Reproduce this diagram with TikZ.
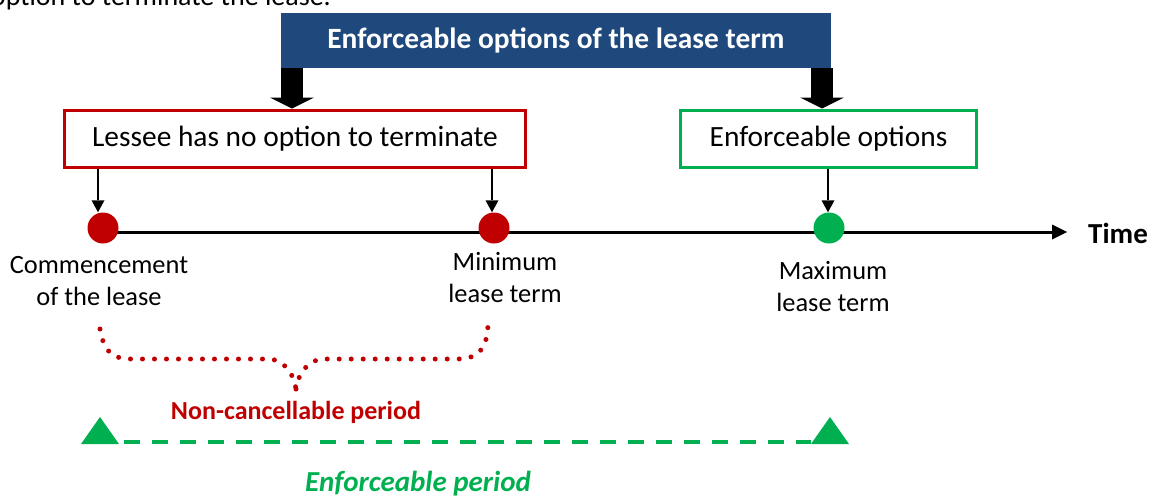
\documentclass[tikz,border=0pt]{standalone}
\usepackage{fontspec}
\setmainfont{Carlito}
\usetikzlibrary{arrows.meta,calc}
\definecolor{hdrblue}{HTML}{1F497D}
\definecolor{darkred}{HTML}{C00000}
\definecolor{brightgreen}{HTML}{00B050}
\begin{document}
\begin{tikzpicture}[x=1pt,y=-1pt,
  txt/.style={font=\fontsize{28}{33}\selectfont, inner sep=0pt},
  lbl/.style={font=\fontsize{26.4}{32}\selectfont, align=center, inner sep=0pt},
  optbox/.style={draw, line width=3pt, minimum height=57pt, inner sep=0pt, font=\fontsize{29.4}{33}\selectfont},
  bigarrow/.style={line width=22pt, -{Triangle[width=44pt,length=11pt,line width=0pt]}},
  smallarrow/.style={line width=2.5pt, -{Triangle[width=13pt,length=12pt,line width=0pt]}},
  dot/.style={circle, minimum size=31pt, inner sep=0pt},
]
\useasboundingbox (0,0) rectangle (1151,498);
% cut-off line of text at the top
\node[txt, anchor=base east] (toptext) at (331,5) {option to terminate the lease.};
% header
\node[fill=hdrblue, text=white, minimum width=550pt, minimum height=55pt, inner sep=0pt,
      font=\bfseries\fontsize{29.4}{33}\selectfont] (hdr) at (556,40.5) {Enforceable options of the lease term};
% option boxes
\node[optbox, draw=darkred, minimum width=461pt] (nobox) at (295,138.5) {Lessee has no option to terminate};
\node[optbox, draw=brightgreen, minimum width=296pt] (enbox) at (828.5,138.5) {Enforceable options};
% thick arrows
\draw[bigarrow] (hdr.south -| 292,0) -- (nobox.north -| 292,0);
\draw[bigarrow] (hdr.south -| 822,0) -- (enbox.north -| 822,0);
% timeline
\coordinate (tstart) at (103,232);
\coordinate (tend) at (1067,232);
\draw[line width=3pt, -{Triangle[width=15pt,length=15pt,line width=0pt]}] (tstart) -- (tend);
\node[font=\bfseries\fontsize{29}{33}\selectfont, anchor=west, inner sep=0pt] (time) at (1088,233) {Time};
% points
\node[dot, fill=darkred] (c1) at (103,228) {};
\node[dot, fill=darkred] (c2) at (494,228) {};
\node[dot, fill=brightgreen] (c3) at (829,228) {};
% small arrows
\draw[smallarrow] (nobox.south -| 98,0) -- (c1.north -| 98,0);
\draw[smallarrow] (nobox.south -| 492,0) -- (c2.north -| 492,0);
\draw[smallarrow] (enbox.south -| 828,0) -- (c3.north -| 828,0);
% labels (base = baseline of last line)
\node[lbl, anchor=base] (l1) at (99,305) {Commencement\\of the lease};
\node[lbl, anchor=base] (l2) at (505,302) {Minimum\\lease term};
\node[lbl, anchor=base] (l3) at (833,311) {Maximum\\lease term};
% dotted brace
\coordinate (b1) at (100,329);
\coordinate (bm) at (296,389);
\coordinate (b2) at (488,322);
\draw[darkred, line width=5pt, line cap=round, dash pattern=on 0pt off 12pt]
  (b1) .. controls (104,352) and (112,359) .. (132,359) -- (268,359)
  .. controls (284,359) and (294,374) .. (bm);
\draw[darkred, line width=5pt, line cap=round, dash pattern=on 0pt off 12pt]
  (bm) .. controls (298,374) and (308,359) .. (324,359) -- (458,359)
  .. controls (480,359) and (488,346) .. (b2);
\node[font=\bfseries\fontsize{26}{30}\selectfont, text=darkred, inner sep=0pt] (nc) at (296,412) {Non-cancellable period};
% triangles and dashed line
\coordinate (t1) at (100,444);
\coordinate (t2) at (830,444);
\fill[brightgreen] (t1) ++(-19,0) -- ++(38,0) -- ++(-19,-27) -- cycle;
\fill[brightgreen] (t2) ++(-19,0) -- ++(38,0) -- ++(-19,-27) -- cycle;
\draw[brightgreen, line width=4pt, dash pattern=on 16pt off 12pt] ($(t1)+(24,-2)$) -- ($(t2)+(-19,-2)$);
\node[font=\bfseries\itshape\fontsize{29}{33}\selectfont, text=brightgreen, inner sep=0pt] (ep) at (418,484) {Enforceable period};
\end{tikzpicture}
\end{document}
